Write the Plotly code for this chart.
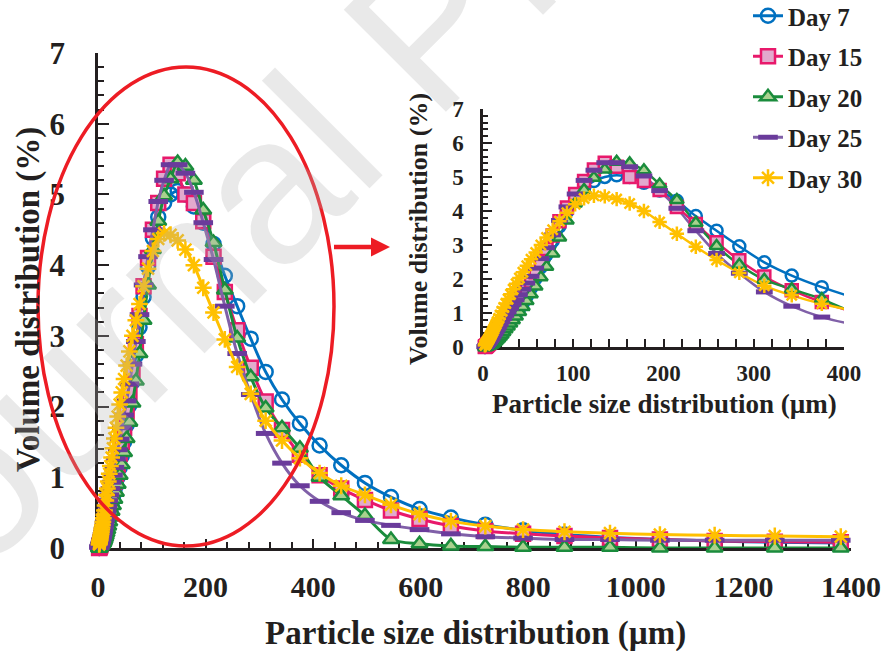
import plotly.graph_objects as go

# ---------------- data ----------------
sizes_um = [2.1, 2.3, 2.5, 2.7, 3.0, 3.3, 3.6, 3.9, 4.3, 4.7, 5.2, 5.7, 6.3, 6.9, 7.5, 8.3, 9.1, 10.0,
            10.9, 12.0, 13.2, 14.5, 15.9, 17.4, 19.1, 21.0, 23.0, 25.3, 27.8, 30.5, 33.4, 36.7, 40.3, 44.2,
            48.5, 53.2, 58.4, 64.1, 70.4, 77.2, 84.7, 93.0, 102.1, 112.0, 122.9, 134.9, 148.1, 162.5, 178.3,
            195.7, 214.8, 235.8, 258.8, 284.0, 311.7, 342.1, 375.4, 412.0, 452.2, 496.3, 544.7, 597.8, 656.1,
            720.1, 790.3, 867.3, 951.9, 1044.7, 1146.5, 1258.3, 1381.0]

day7 = [0.0, 0.0, 0.01, 0.01, 0.02, 0.02, 0.03, 0.03, 0.04, 0.05, 0.06, 0.07, 0.08, 0.09, 0.1, 0.11,
        0.12, 0.13, 0.15, 0.17, 0.2, 0.24, 0.28, 0.33, 0.38, 0.45, 0.52, 0.6, 0.69, 0.78, 0.88, 1.0, 1.14,
        1.3, 1.5, 1.74, 2.02, 2.35, 2.72, 3.12, 3.55, 3.98, 4.38, 4.68, 4.88, 5.0, 5.05, 5.0, 4.83, 4.6,
        4.3, 3.85, 3.42, 2.96, 2.49, 2.1, 1.76, 1.45, 1.17, 0.92, 0.72, 0.55, 0.43, 0.33, 0.25, 0.19,
        0.15, 0.12, 0.1, 0.08, 0.07]

day15 = [0.0, 0.01, 0.01, 0.02, 0.02, 0.03, 0.03, 0.04, 0.05, 0.06, 0.07, 0.08, 0.1, 0.11, 0.13, 0.15,
         0.17, 0.2, 0.23, 0.27, 0.31, 0.36, 0.41, 0.47, 0.53, 0.6, 0.67, 0.75, 0.84, 0.94, 1.05, 1.18,
         1.33, 1.5, 1.7, 1.93, 2.2, 2.52, 2.88, 3.28, 3.7, 4.1, 4.5, 4.88, 5.22, 5.42, 5.3, 5.0, 4.88,
         4.62, 4.12, 3.62, 3.08, 2.55, 2.07, 1.67, 1.32, 1.03, 0.84, 0.68, 0.53, 0.41, 0.31, 0.24, 0.2,
         0.17, 0.14, 0.12, 0.1, 0.09, 0.08]

day20 = [0.0, 0.0, 0.0, 0.0, 0.01, 0.01, 0.01, 0.02, 0.02, 0.03, 0.03, 0.04, 0.04, 0.05, 0.05, 0.06,
         0.07, 0.08, 0.1, 0.12, 0.15, 0.18, 0.22, 0.26, 0.31, 0.37, 0.44, 0.52, 0.6, 0.69, 0.79, 0.9,
         1.03, 1.18, 1.35, 1.55, 1.78, 2.05, 2.36, 2.75, 3.22, 3.72, 4.22, 4.62, 4.98, 5.22, 5.45, 5.4,
         5.2, 4.78, 4.32, 3.65, 2.97, 2.42, 1.98, 1.7, 1.41, 1.0, 0.74, 0.46, 0.12, 0.06, 0.03, 0.02,
         0.01, 0.01, 0.01, 0.0, 0.0, 0.0, 0.0]

day25 = [0.01, 0.01, 0.02, 0.02, 0.03, 0.04, 0.04, 0.05, 0.06, 0.07, 0.09, 0.1, 0.12, 0.14, 0.16, 0.19,
         0.22, 0.26, 0.3, 0.35, 0.4, 0.46, 0.52, 0.59, 0.67, 0.75, 0.84, 0.93, 1.03, 1.14, 1.26, 1.39,
         1.54, 1.7, 1.88, 2.08, 2.32, 2.6, 2.92, 3.3, 3.72, 4.12, 4.5, 4.9, 5.2, 5.42, 5.42, 5.3, 5.03,
         4.6, 4.08, 3.42, 2.75, 2.17, 1.62, 1.2, 0.88, 0.66, 0.5, 0.39, 0.32, 0.26, 0.2, 0.16, 0.14,
         0.12, 0.12, 0.11, 0.11, 0.11, 0.11]

day30 = [0.05, 0.06, 0.07, 0.08, 0.09, 0.1, 0.11, 0.12, 0.14, 0.16, 0.18, 0.2, 0.23, 0.26, 0.29, 0.33,
         0.37, 0.42, 0.47, 0.53, 0.6, 0.67, 0.75, 0.84, 0.94, 1.05, 1.16, 1.28, 1.41, 1.55, 1.7, 1.86,
         2.03, 2.2, 2.39, 2.58, 2.78, 3.0, 3.22, 3.45, 3.7, 3.95, 4.2, 4.37, 4.45, 4.43, 4.35, 4.22, 4.0,
         3.68, 3.33, 2.95, 2.56, 2.18, 1.8, 1.52, 1.27, 1.06, 0.88, 0.75, 0.61, 0.48, 0.38, 0.31, 0.26,
         0.23, 0.21, 0.19, 0.18, 0.17, 0.16]

series_names = ["Day 7", "Day 15", "Day 20", "Day 25", "Day 30"]
series_values = [day7, day15, day20, day25, day30]

main_xticks = [0, 200, 400, 600, 800, 1000, 1200, 1400]
inset_xticks = [0, 100, 200, 300, 400]
y_ticks = [0, 1, 2, 3, 4, 5, 6, 7]

# ---------------- styles ----------------
SERIF = "Liberation Serif"
TXT = "#231F20"
AX = "#231F20"
styles = [
    dict(line="#0070C0", marker=dict(symbol="circle-open", color="#0070C0", line=dict(width=2.5, color="#0070C0"))),
    dict(line="#E8196B", marker=dict(symbol="square", color="#E2AACD", line=dict(width=2.5, color="#E8196B"))),
    dict(line="#1A8C3C", marker=dict(symbol="triangle-up", color="#A9D18E", line=dict(width=2.5, color="#1A8C3C"))),
    dict(line="#8060A8", marker=dict(symbol="line-ew", color="#6A3B9B", line=dict(width=5, color="#6A3B9B"))),
    dict(line="#FFC000", marker=dict(symbol="asterisk", color="#FFC000", line=dict(width=2.5, color="#FFC000"))),
]

W, H = 890, 651
ML, MR, MT, MB = 98, 39, 53, 103
PW, PH = W - ML - MR, H - MT - MB


def px(xp):
    return (xp - ML) / PW


def py(yp):
    return (H - MB - yp) / PH


fig = go.Figure()

# main traces
for name, vals, st in zip(series_names, series_values, styles):
    m = dict(st["marker"])
    m["size"] = 14
    fig.add_trace(go.Scatter(
        x=sizes_um, y=vals, name=name, mode="lines+markers",
        line=dict(color=st["line"], width=3, shape="spline", smoothing=0.8),
        marker=m, cliponaxis=False, xaxis="x", yaxis="y",
        legendgroup=name, showlegend=True,
    ))

# inset traces: lines (clipped to the inset) + markers up to 400 um
for name, vals, st in zip(series_names, series_values, styles):
    fig.add_trace(go.Scatter(
        x=sizes_um, y=vals, mode="lines", showlegend=False,
        line=dict(color=st["line"], width=2.5, shape="spline", smoothing=0.8),
        xaxis="x2", yaxis="y2", hoverinfo="skip",
    ))
for name, vals, st in zip(series_names, series_values, styles):
    xs = [x for x in sizes_um if x <= 400]
    ys = [v for x, v in zip(sizes_um, vals) if x <= 400]
    m = dict(st["marker"])
    m["size"] = 12
    fig.add_trace(go.Scatter(
        x=xs, y=ys, mode="markers", showlegend=False, marker=m,
        cliponaxis=False, xaxis="x2", yaxis="y2",
    ))

axis_common = dict(showgrid=False, zeroline=False, showline=True, linewidth=2.5, linecolor=AX,
                   ticks="inside", tickcolor=AX, layer="below traces")

fig.update_layout(
    width=W, height=H,
    margin=dict(l=ML, r=MR, t=MT, b=MB, autoexpand=False),
    paper_bgcolor="white", plot_bgcolor="white",
    xaxis=dict(domain=[0, 1], range=[0, 1400], anchor="y", tickmode="array", tickvals=main_xticks,
               ticklen=9, tickwidth=2, minor=dict(dtick=40, tick0=0, ticks="inside", ticklen=6, tickwidth=1.5, tickcolor=AX),
               tickfont=dict(family=SERIF, size=30, color=TXT, weight="bold"), ticklabelstandoff=10,
               **axis_common),
    yaxis=dict(domain=[0, 1], range=[0, 7], anchor="x", tickmode="array", tickvals=y_ticks,
               ticklen=11, tickwidth=2, minor=dict(dtick=0.2, tick0=0, ticks="inside", ticklen=6, tickwidth=1.5, tickcolor=AX),
               tickfont=dict(family=SERIF, size=31, color=TXT, weight="bold"), ticklabelstandoff=24,
               **axis_common),
    xaxis2=dict(domain=[px(483), px(844)], range=[0, 400], anchor="y2", tickmode="array", tickvals=inset_xticks,
                ticklen=8, tickwidth=2, minor=dict(dtick=20, tick0=0, ticks="inside", ticklen=8, tickwidth=1.5, tickcolor=AX),
                tickfont=dict(family=SERIF, size=23, color=TXT, weight="bold"), ticklabelstandoff=4,
                **axis_common),
    yaxis2=dict(domain=[py(347), py(109)], range=[0, 7], anchor="x2", tickmode="array", tickvals=y_ticks,
                ticklen=9, tickwidth=2, minor=dict(dtick=0.2, tick0=0, ticks="inside", ticklen=5, tickwidth=1.5, tickcolor=AX),
                tickfont=dict(family=SERIF, size=23, color=TXT, weight="bold"), ticklabelstandoff=12,
                **axis_common),
    legend=dict(x=px(748), y=py(-7), xanchor="left", yanchor="top", bgcolor="rgba(0,0,0,0)",
                font=dict(family=SERIF, size=25, color=TXT, weight="bold"), tracegroupgap=5,
                itemwidth=30),
    showlegend=True,
)

# axis titles and watermark
fig.add_annotation(text="Particle size distribution (µm)", xref="paper", yref="paper",
                   x=px(475), y=py(633), showarrow=False, xanchor="center", yanchor="middle",
                   font=dict(family=SERIF, size=33, color=TXT, weight="bold"))
fig.add_annotation(text="Volume distribution (%)", xref="paper", yref="paper",
                   x=px(28), y=py(300), showarrow=False, textangle=-90, xanchor="center", yanchor="middle",
                   font=dict(family=SERIF, size=33, color=TXT, weight="bold"))
fig.add_annotation(text="Particle size distribution (µm)", xref="paper", yref="paper",
                   x=px(664), y=py(404), showarrow=False, xanchor="center", yanchor="middle",
                   font=dict(family=SERIF, size=27, color=TXT, weight="bold"))
fig.add_annotation(text="Volume distribution (%)", xref="paper", yref="paper",
                   x=px(419), y=py(229), showarrow=False, textangle=-90, xanchor="center", yanchor="middle",
                   font=dict(family=SERIF, size=26, color=TXT, weight="bold"))
fig.add_annotation(text="Journal Pre-proof", xref="paper", yref="paper",
                   x=px(428), y=py(28), showarrow=False, textangle=-45, xanchor="center", yanchor="middle",
                   font=dict(family="Liberation Sans", size=210, color="rgba(175,175,175,0.28)"))

# red ellipse and arrow
RED = "#ED1C24"
fig.add_shape(type="circle", xref="paper", yref="paper", x0=px(38), x1=px(334), y0=py(546), y1=py(67),
              line=dict(color=RED, width=3.5))
fig.add_shape(type="line", xref="paper", yref="paper", x0=px(334), x1=px(374), y0=py(247), y1=py(247),
              line=dict(color=RED, width=4.5))
fig.add_shape(type="path", xref="paper", yref="paper",
              path=f"M {px(371)},{py(237.5)} L {px(390)},{py(247)} L {px(371)},{py(256.5)} Z",
              fillcolor=RED, line=dict(color=RED, width=0))

fig.write_html("out.html")
